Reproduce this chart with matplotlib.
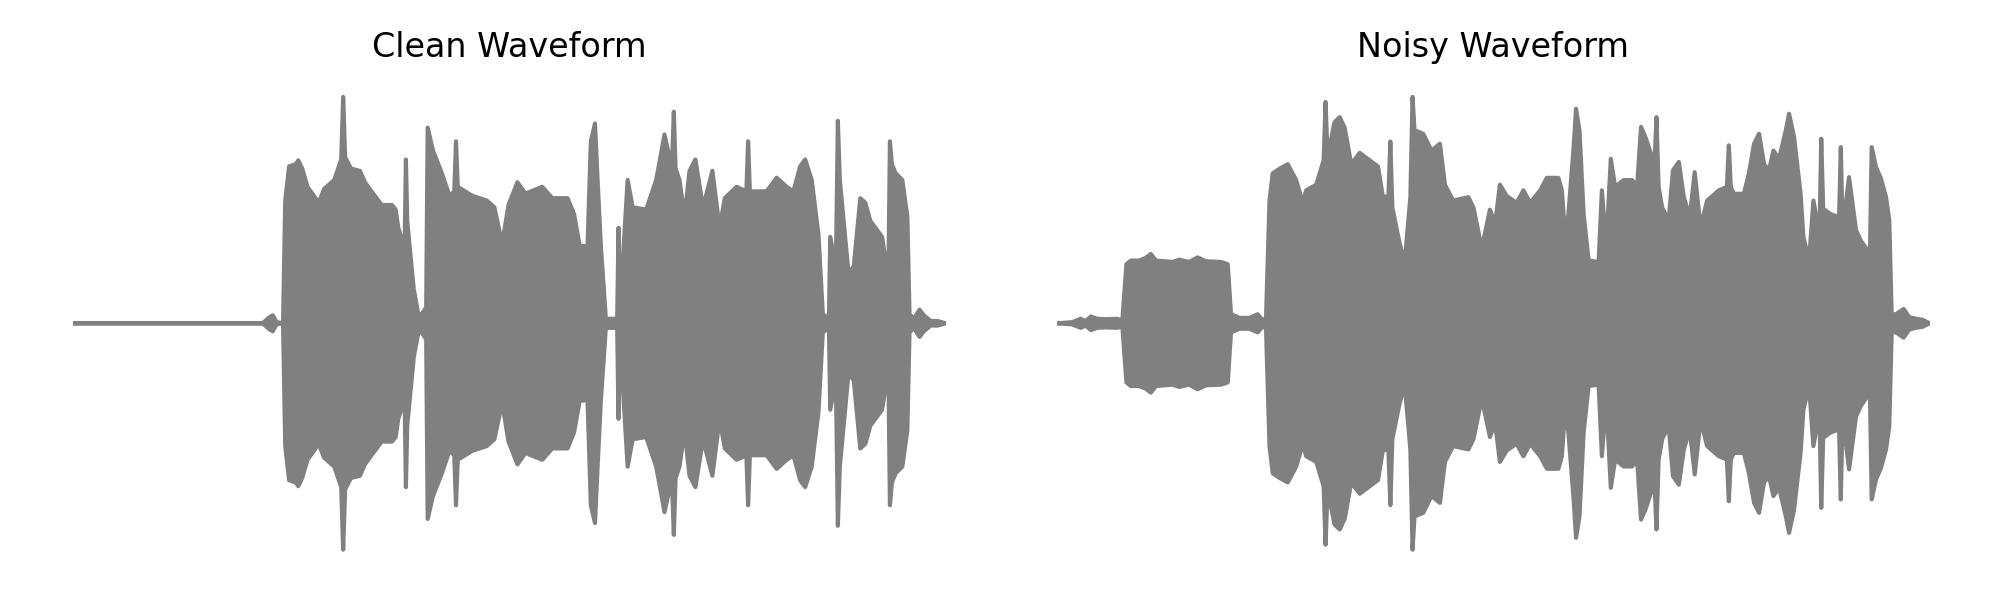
import matplotlib
matplotlib.use("Agg")
import matplotlib.pyplot as plt

# Envelope of the clean waveform (time in s, peak amplitude)
clean_t = [0, 0.868, 0.897, 0.915, 0.932, 0.962, 0.972, 0.990, 1.021, 1.032,
           1.050, 1.074, 1.126, 1.150, 1.197, 1.229, 1.238, 1.247, 1.274, 1.315,
           1.338, 1.368, 1.415, 1.462, 1.479, 1.491, 1.520, 1.526, 1.532, 1.562,
           1.585, 1.591, 1.619, 1.626, 1.650, 1.691, 1.726, 1.748, 1.756, 1.764,
           1.832, 1.897, 1.932, 1.968, 1.997, 2.038, 2.075, 2.152, 2.198, 2.268,
           2.298, 2.324, 2.344, 2.355, 2.375, 2.394, 2.406, 2.421, 2.444, 2.496,
           2.502, 2.508, 2.544, 2.567, 2.629, 2.675, 2.698, 2.713, 2.736, 2.749,
           2.756, 2.764, 2.782, 2.805, 2.828, 2.855, 2.890, 2.933, 2.966, 2.990,
           3.044, 3.089, 3.097, 3.105, 3.182, 3.228, 3.274, 3.305, 3.336, 3.359,
           3.389, 3.420, 3.440, 3.468, 3.474, 3.500, 3.509, 3.518, 3.558, 3.582,
           3.612, 3.635, 3.658, 3.689, 3.712, 3.741, 3.748, 3.757, 3.774, 3.805,
           3.828, 3.838, 3.858, 3.884, 3.904, 3.935, 3.966, 4.004]
clean_amp = [0, 0, 0.025, 0.035, 0.005, 0.0, 0.54, 0.69, 0.70, 0.716,
             0.68, 0.60, 0.53, 0.59, 0.63, 0.72, 0.995, 0.73, 0.68, 0.67,
             0.62, 0.58, 0.52, 0.52, 0.50, 0.42, 0.33, 0.72, 0.45, 0.15,
             0.03, 0.03, 0.07, 0.86, 0.76, 0.66, 0.56, 0.58, 0.80, 0.60,
             0.56, 0.54, 0.51, 0.35, 0.52, 0.62, 0.57, 0.60, 0.55, 0.55,
             0.48, 0.34, 0.34, 0.19, 0.80, 0.878, 0.63, 0.34, 0.02, 0.02,
             0.42, 0.06, 0.63, 0.51, 0.50, 0.63, 0.75, 0.83, 0.73, 0.74,
             0.93, 0.68, 0.63, 0.47, 0.67, 0.72, 0.51, 0.67, 0.42, 0.55,
             0.60, 0.58, 0.80, 0.58, 0.58, 0.64, 0.60, 0.58, 0.69, 0.72,
             0.63, 0.39, 0.04, 0.02, 0.38, 0.25, 0.89, 0.63, 0.22, 0.25,
             0.55, 0.53, 0.45, 0.41, 0.38, 0.20, 0.80, 0.70, 0.66, 0.63,
             0.47, 0.04, 0.02, 0.06, 0.035, 0.01, 0.01, 0]

# Envelope of the noisy waveform
noisy_t = [0, 0.069, 0.107, 0.131, 0.154, 0.184, 0.223, 0.276, 0.299, 0.318,
           0.338, 0.376, 0.407, 0.430, 0.454, 0.530, 0.561, 0.607, 0.645, 0.684,
           0.753, 0.784, 0.799, 0.838, 0.884, 0.922, 0.945, 0.960, 0.976, 0.991,
           1.022, 1.060, 1.099, 1.129, 1.145, 1.191, 1.225, 1.234, 1.243, 1.275,
           1.299, 1.322, 1.352, 1.391, 1.437, 1.475, 1.498, 1.523, 1.532, 1.541,
           1.575, 1.598, 1.624, 1.634, 1.643, 1.683, 1.721, 1.760, 1.783, 1.821,
           1.891, 1.914, 1.944, 1.960, 1.990, 2.014, 2.036, 2.067, 2.113, 2.144,
           2.175, 2.221, 2.252, 2.305, 2.321, 2.336, 2.351, 2.375, 2.386, 2.402,
           2.421, 2.444, 2.490, 2.505, 2.525, 2.546, 2.566, 2.605, 2.644, 2.667,
           2.685, 2.705, 2.747, 2.756, 2.766, 2.782, 2.812, 2.832, 2.859, 2.882,
           2.909, 2.932, 2.959, 2.989, 3.043, 3.080, 3.089, 3.098, 3.112, 3.158,
           3.181, 3.205, 3.228, 3.251, 3.274, 3.294, 3.320, 3.351, 3.366, 3.389,
           3.419, 3.432, 3.458, 3.478, 3.506, 3.514, 3.523, 3.558, 3.596, 3.604,
           3.612, 3.642, 3.674, 3.696, 3.738, 3.746, 3.766, 3.789, 3.812, 3.827,
           3.838, 3.858, 3.893, 3.919, 3.950, 3.981, 4.012]
noisy_amp = [0, 0.005, 0.02, 0.01, 0.03, 0.02, 0.018, 0.02, 0.012, 0.26,
             0.276, 0.276, 0.288, 0.305, 0.276, 0.27, 0.28, 0.27, 0.29, 0.273,
             0.27, 0.26, 0.04, 0.024, 0.024, 0.04, 0.012, 0.024, 0.54, 0.66,
             0.68, 0.70, 0.63, 0.53, 0.585, 0.61, 0.717, 0.974, 0.73, 0.885,
             0.907, 0.86, 0.70, 0.75, 0.717, 0.69, 0.555, 0.56, 0.80, 0.51,
             0.35, 0.27, 0.555, 0.996, 0.85, 0.834, 0.76, 0.79, 0.61, 0.54,
             0.555, 0.51, 0.37, 0.364, 0.50, 0.44, 0.61, 0.56, 0.53, 0.585,
             0.53, 0.585, 0.64, 0.64, 0.585, 0.38, 0.48, 0.775, 0.944, 0.849,
             0.48, 0.276, 0.27, 0.585, 0.335, 0.724, 0.60, 0.63, 0.63, 0.60,
             0.864, 0.82, 0.70, 0.907, 0.60, 0.51, 0.452, 0.673, 0.71, 0.555,
             0.467, 0.665, 0.423, 0.54, 0.585, 0.60, 0.783, 0.60, 0.57, 0.57,
             0.658, 0.79, 0.834, 0.70, 0.673, 0.76, 0.724, 0.849, 0.922, 0.82,
             0.57, 0.38, 0.276, 0.54, 0.39, 0.812, 0.504, 0.48, 0.467, 0.775,
             0.41, 0.643, 0.41, 0.364, 0.305, 0.775, 0.687, 0.636, 0.555, 0.452,
             0.04, 0.04, 0.063, 0.027, 0.02, 0.015, 0]

titles = ["Clean Waveform", "Noisy Waveform"]

fig, axes = plt.subplots(1, 2, figsize=(10, 3), dpi=200)
plt.subplots_adjust(left=0.0365, right=0.9645, bottom=0.047, top=0.877, wspace=0.128)

for ax, t, amp, title in zip(axes, [clean_t, noisy_t], [clean_amp, noisy_amp], titles):
    lower = [-a for a in amp]
    poly = ax.fill_between(t, lower, amp, color="gray", linewidth=1.5)
    poly.set_joinstyle("round")
    ax.set_xlim(t[0], t[-1])
    ax.set_title(title)
    ax.axis("off")

plt.savefig("out.png")
